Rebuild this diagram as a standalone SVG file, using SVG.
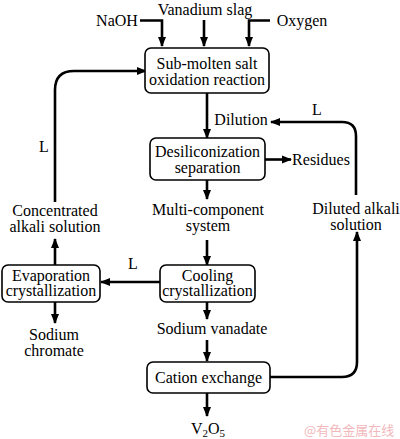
<svg xmlns="http://www.w3.org/2000/svg" width="400" height="439" viewBox="0 0 400 439">
<style>
text{font-family:"Liberation Serif","Times New Roman",serif;font-size:16px;fill:#000;text-anchor:middle}
.box{fill:#fff;stroke:#000;stroke-width:1.6}
.c{fill:none;stroke:#000;stroke-width:2.6;marker-end:url(#ah)}
.wm{font-family:"Noto Sans CJK SC",sans-serif;font-size:13px;fill:#f2b8bc;text-anchor:start}
</style>
<defs>
<marker id="ah" markerUnits="userSpaceOnUse" markerWidth="10" markerHeight="10" viewBox="0 0 10 10" refX="9" refY="5" orient="auto">
<path d="M0,1 L10,5 L0,9 Z" fill="#000"/>
</marker>
</defs>
<rect width="400" height="439" fill="#fff"/>
<g id="connectors">
<path class="c" d="M140,20.5 H162 V46"/>
<path class="c" d="M204,20 V46"/>
<path class="c" d="M270,20.5 H249 V46"/>
<path class="c" d="M207,93 V138"/>
<path class="c" d="M356,195 V136 Q356,122 342,122 H271"/>
<path class="c" d="M265,159.5 H291"/>
<path class="c" d="M207,180 V199"/>
<path class="c" d="M207,240 V265"/>
<path class="c" d="M160,282 H101"/>
<path class="c" d="M55,265 V239"/>
<path class="c" d="M55,202 V90 Q55,71 74,71 H146"/>
<path class="c" d="M55,302 V323"/>
<path class="c" d="M207,302 V319"/>
<path class="c" d="M207,340 V361"/>
<path class="c" d="M270,377 H342 Q357,377 357,362 V232"/>
<path class="c" d="M207,393 V416"/>
</g>
<g id="labels">
<text x="117" y="26">NaOH</text>
<text x="205" y="14.5">Vanadium slag</text>
<text x="302" y="26">Oxygen</text>
<text x="241" y="125">Dilution</text>
<text x="317" y="115">L</text>
<text x="44" y="152">L</text>
<text x="133" y="269">L</text>
<text x="321" y="165">Residues</text>
<text x="208" y="215">Multi-component</text>
<text x="208" y="231">system</text>
<text x="55" y="216">Concentrated</text>
<text x="55" y="232">alkali solution</text>
<text x="356" y="214">Diluted alkali</text>
<text x="356" y="230">solution</text>
<text x="54" y="340">Sodium</text>
<text x="54" y="356">chromate</text>
<text x="212" y="334">Sodium vanadate</text>
<text x="208" y="434">V<tspan font-size="11" dy="3">2</tspan><tspan dy="-3">O</tspan><tspan font-size="11" dy="3">5</tspan></text>
<text class="wm" x="304" y="435">@有色金属在线</text>
</g>
<g id="n1">
<rect class="box" x="145" y="48" width="124" height="45" rx="6"/>
<text x="207" y="68.5">Sub-molten salt</text>
<text x="207" y="84.5">oxidation reaction</text>
</g>
<g id="n2">
<rect class="box" x="150" y="138" width="115" height="42" rx="6"/>
<text x="207.5" y="157">Desiliconization</text>
<text x="207.5" y="173">separation</text>
</g>
<g id="n3">
<rect class="box" x="160" y="265" width="95" height="37" rx="6"/>
<text x="207.5" y="280.5">Cooling</text>
<text x="207.5" y="296">crystallization</text>
</g>
<g id="n4">
<rect class="box" x="2" y="265" width="98" height="37" rx="6"/>
<text x="51" y="280.5">Evaporation</text>
<text x="51" y="296">crystallization</text>
</g>
<g id="n5">
<rect class="box" x="147" y="362" width="123" height="31" rx="6"/>
<text x="208.5" y="383">Cation exchange</text>
</g>
</svg>
